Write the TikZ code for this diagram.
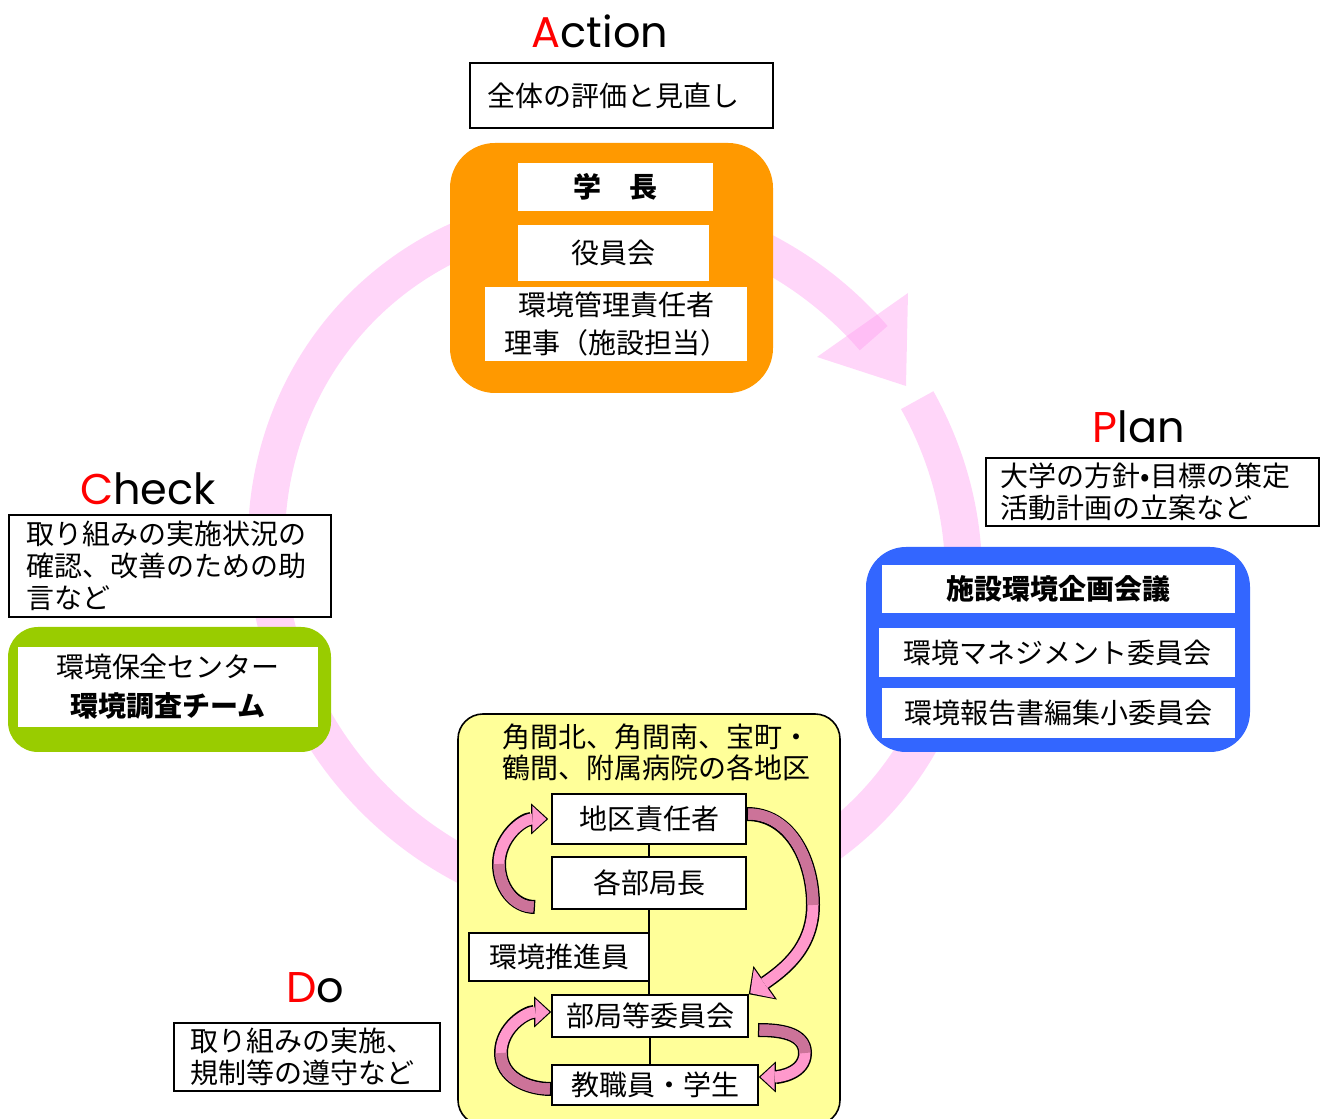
\documentclass[tikz,border=0pt]{standalone}
\usepackage{fontspec}
\setmainfont{Noto Sans CJK JP}
\newfontfamily\pdcafont{Poppins}
\usetikzlibrary{arrows.meta,calc}

\definecolor{ringpink}{HTML}{FF99F0}
\definecolor{actorange}{HTML}{FF9900}
\definecolor{planblue}{HTML}{3366FF}
\definecolor{checkgreen}{HTML}{99CC00}
\definecolor{doyellow}{HTML}{FFFF99}
\definecolor{arrowpink}{HTML}{FF99CC}
\definecolor{arrowmauve}{HTML}{CC7399}
\definecolor{pdcared}{HTML}{FF0000}

\newcommand{\jp}{\fontsize{28}{32}\selectfont}

\tikzset{
  phase/.style={font=\pdcafont\fontsize{43}{43}\selectfont, anchor=base, inner sep=0pt},
  note/.style={draw, line width=1.6pt, fill=white, font=\jp, align=left, inner ysep=0pt, anchor=west},
  member/.style={fill=white, font=\jp, inner sep=0pt, align=center},
  unit/.style={draw, line width=1.6pt, fill=white, font=\jp, inner sep=0pt},
  ring/.style={draw=ringpink, draw opacity=.4, line width=37pt},
  ringtip/.style={fill=ringpink, fill opacity=.4},
  turn/.style={line width=11pt, draw=arrowpink, shorten <=1.5pt, shorten >=1.8pt,
    -{Triangle[length=14pt,width=26pt,line width=0pt]},
    preaction={draw=black, line width=14pt, shorten <=0pt, shorten >=0pt,
      -{Triangle[length=17pt,width=31pt,line width=0pt]}}},
  bigturn/.style={line width=11pt, draw=arrowpink, shorten <=1.5pt, shorten >=1.8pt,
    -{Triangle[length=17pt,width=36pt,line width=0pt]},
    preaction={draw=black, line width=14pt, shorten <=0pt, shorten >=0pt,
      -{Triangle[length=20pt,width=41pt,line width=0pt]}}},
  backhalf/.style={line width=11pt, draw=arrowmauve, shorten <=1.5pt}
}

\begin{document}
\begin{tikzpicture}[x=1pt,y=1pt]
  \useasboundingbox (0,0) rectangle (1323,1119);

  \coordinate (c) at (615,560);
  \begin{scope}[shift={(c)},rotate=-45]
    \draw[ring] (73.5:357 and 340) arc[start angle=73.5, end angle=-274.3, x radius=357, y radius=340];
  \end{scope}
  \fill[ringtip] (817,762) -- (908,826) -- (906,733) -- cycle;

  \fill[actorange, rounded corners=45pt] (450,726) rectangle (773,976);
  \fill[planblue, rounded corners=40pt] (866,367) rectangle (1250,572);
  \fill[checkgreen, rounded corners=30pt] (8,367) rectangle (331,492);
  \draw[fill=doyellow, line width=1.6pt, rounded corners=25pt] (458,-6) rectangle (840,405);

  \node[phase] (act) at (600,1071) {\textcolor{pdcared}{A}ction};
  \node[note, text width=267pt, inner xsep=18pt, minimum height=65pt] (actnote) at (469,1023.5) {全体の評価と見直し};
  \node[member, minimum width=195pt, minimum height=48pt] (gakucho) at (615.5,932) {\bfseries 学　長};
  \node[member, minimum width=191pt, minimum height=56pt, below of=gakucho, node distance=66pt, xshift=-2pt] (yakuin) {役員会};
  \node[member, minimum width=262pt, minimum height=74pt, below of=yakuin, node distance=71pt, xshift=2.5pt, font=\fontsize{28}{38}\selectfont] (sekinin) {環境管理責任者\\理事（施設担当）};

  \node[phase] (plan) at (1139,676) {\textcolor{pdcared}{P}lan};
  \node[note, text width=303pt, inner xsep=15pt, minimum height=68pt] (plannote) at (985,627) {大学の方針•目標の策定\\活動計画の立案など};
  \node[member, minimum width=353pt, minimum height=48pt] (kikaku) at (1058.5,530) {\bfseries 施設環境企画会議};
  \node[member, minimum width=356pt, minimum height=49pt, below of=kikaku, node distance=63.5pt, xshift=-1.5pt] (mgmt) {環境マネジメント委員会};
  \node[member, minimum width=353pt, minimum height=50pt, below of=mgmt, node distance=60.5pt, xshift=1.5pt] (report) {環境報告書編集小委員会};

  \node[phase] (check) at (148,614) {\textcolor{pdcared}{C}heck};
  \node[note, text width=286pt, inner xsep=18pt, minimum height=102pt] (checknote) at (8,553) {取り組みの実施状況の\\確認、改善のための助\\言など};
  \node[member, minimum width=300pt, minimum height=80pt, font=\fontsize{28}{39}\selectfont] (center) at (168,432) {環境保全センター\\\textbf{環境調査チーム}};

  \node[phase] (do) at (315,116) {\textcolor{pdcared}{D}o};
  \node[note, text width=232pt, inner xsep=17pt, minimum height=68pt] (donote) at (173,62) {取り組みの実施、\\規制等の遵守など};

  \node[font=\fontsize{28}{31}\selectfont, align=left, inner sep=0pt] (area) at (656.5,366.5) {角間北、角間南、宝町・\\鶴間、附属病院の各地区};
  \node[unit, minimum width=194pt, minimum height=50pt] (chiku) at (649,300) {地区責任者};
  \node[unit, minimum width=194pt, minimum height=52pt, below of=chiku, node distance=64pt] (kakubu) {各部局長};
  \node[unit, minimum width=180pt, minimum height=48pt] (suishin) at (559,162) {環境推進員};
  \node[unit, minimum width=196pt, minimum height=42pt] (bukyokuiin) at (650,103) {部局等委員会};
  \node[unit, minimum width=206pt, minimum height=40pt] (kyoshoku) at (655,34) {教職員・学生};

  \draw[line width=1.6pt] (chiku) -- (kakubu);
  \draw[line width=1.6pt] (kakubu.south) -- (kakubu.south |- bukyokuiin.north);
  \draw[line width=1.6pt] (bukyokuiin.south) -- (bukyokuiin.south |- kyoshoku.north);

  \coordinate (t1) at (535,212);
  \coordinate (m1) at (499,255);
  \coordinate (m2) at (813,214);
  \coordinate (m3) at (501,66);
  \coordinate (t4) at (758,89);
  \coordinate (m4) at (805,66);

  \draw[turn] (t1) to[out=180,in=270] (m1) to[out=90,in=180] ([xshift=-3pt]chiku.west);
  \draw[backhalf] (t1) to[out=180,in=270] (m1);
  \draw[bigturn] ([yshift=5pt]chiku.east) to[out=0,in=90] (m2) to[out=270,in=35] (bukyokuiin.north east);
  \draw[backhalf] ([yshift=5pt]chiku.east) to[out=0,in=90] (m2);
  \draw[turn] ([yshift=-4pt]kyoshoku.west) to[out=180,in=270] (m3) to[out=90,in=180] ([yshift=4pt]bukyokuiin.west);
  \draw[backhalf] ([yshift=-4pt]kyoshoku.west) to[out=180,in=270] (m3);
  \draw[turn] (t4) to[out=0,in=90] (m4) to[out=270,in=0] ([yshift=8pt]kyoshoku.east);
  \draw[backhalf] (t4) to[out=0,in=90] (m4);

\end{tikzpicture}
\end{document}
